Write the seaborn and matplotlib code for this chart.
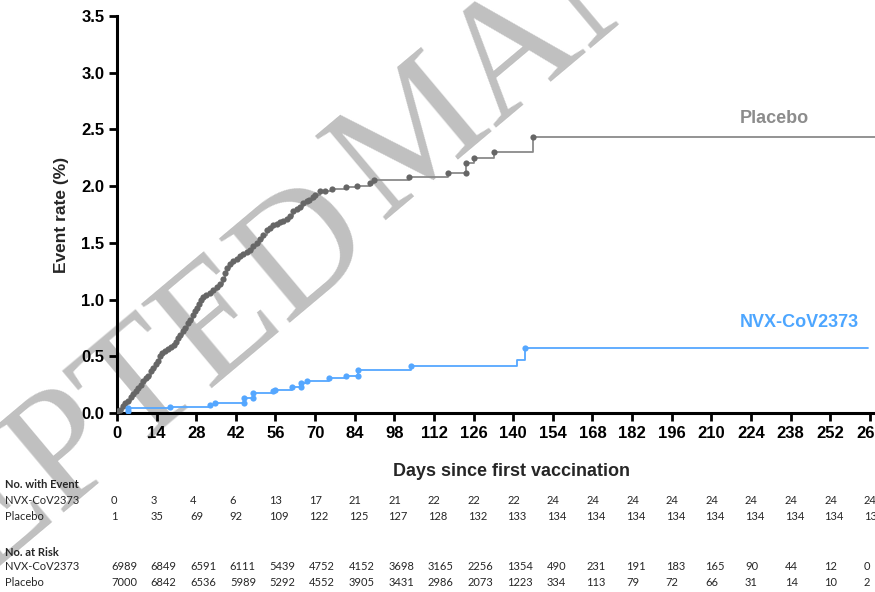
import matplotlib
matplotlib.use("Agg")
import matplotlib.pyplot as plt
import matplotlib.transforms as mtransforms
import pandas as pd
import seaborn as sns

# --- data ------------------------------------------------------------------
placebo_days = [0, 1.0, 2.0, 3.0, 4.0, 5.0, 5.8, 6.8, 7.5, 8.5, 9.3, 10.2, 11.0, 12.0, 12.8,
                13.8, 14.5, 15.2, 15.8, 16.8, 18.0, 19.0, 20.0, 20.8, 21.5, 22.3, 23.2, 24.0,
                25.0, 25.8, 26.8, 27.5, 28.3, 29.0, 29.6, 30.5, 31.5, 32.9, 34.0, 35.2, 36.4,
                37.5, 38.3, 38.8, 39.8, 41.0, 42.3, 43.5, 44.5, 45.8, 47.0, 48.2, 49.3, 50.5,
                51.5, 52.9, 54.0, 55.2, 56.4, 57.5, 58.8, 59.9, 61.0, 62.3, 63.5, 64.5, 65.8,
                67.0, 68.0, 69.3, 70.0, 71.7, 73.5, 76.0, 81.0, 84.8, 89.5, 90.8, 103.3,
                117.0, 123.3, 123.3, 126.2, 133.3, 147.0]
placebo_rate = [0.014, 0.03, 0.06, 0.09, 0.11, 0.14, 0.17, 0.19, 0.22, 0.25, 0.28, 0.31, 0.33,
                0.37, 0.40, 0.43, 0.46, 0.50, 0.53, 0.55, 0.56, 0.58, 0.60, 0.63, 0.66, 0.69,
                0.72, 0.75, 0.79, 0.82, 0.86, 0.90, 0.93, 0.96, 1.00, 1.02, 1.04, 1.055, 1.08,
                1.11, 1.14, 1.18, 1.23, 1.28, 1.31, 1.34, 1.36, 1.38, 1.40, 1.42, 1.44, 1.47,
                1.50, 1.53, 1.57, 1.61, 1.63, 1.66, 1.67, 1.68, 1.69, 1.71, 1.74, 1.78, 1.80,
                1.82, 1.85, 1.87, 1.88, 1.90, 1.92, 1.955, 1.96, 1.975, 1.99, 2.00, 2.03, 2.05,
                2.08, 2.12, 2.12, 2.20, 2.245, 2.305, 2.43]
placebo_end_day = 279

nvx_days = [3.8, 4.0, 18.9, 32.9, 34.8, 44.9, 44.9, 47.9, 47.9, 55.0, 56.0, 62.0, 65.0, 65.0,
            67.0, 75.0, 81.0, 85.0, 85.0, 104.0, 144.0]
nvx_rate = [0.014, 0.043, 0.057, 0.072, 0.086, 0.086, 0.13, 0.13, 0.175, 0.19, 0.205, 0.225,
            0.225, 0.265, 0.285, 0.305, 0.33, 0.33, 0.38, 0.41, 0.575]
nvx_jump_day, nvx_jump_rate = 141.5, 0.47   # intermediate step drawn without a symbol
nvx_end_day = 265.5

tick_days = [0, 14, 28, 42, 56, 70, 84, 98, 112, 126, 140, 154, 168, 182, 196, 210, 224, 238,
             252, 266]
event_nvx = [0, 3, 4, 6, 13, 17, 21, 21, 22, 22, 22, 24, 24, 24, 24, 24, 24, 24, 24, 24]
event_placebo = [1, 35, 69, 92, 109, 122, 125, 127, 128, 132, 133, 134, 134, 134, 134, 134, 134,
                 134, 134, 134]
risk_nvx = [6989, 6849, 6591, 6111, 5439, 4752, 4152, 3698, 3165, 2256, 1354, 490, 231, 191, 183,
            165, 90, 44, 12, 0]
risk_placebo = [7000, 6842, 6536, 5989, 5292, 4552, 3905, 3431, 2986, 2073, 1223, 334, 113, 79,
                72, 66, 31, 14, 10, 2]

grey_line = "#8a8a8a"
grey_dot = "#666666"
blue = "#55a7ff"

sns.set_style("ticks")
plt.rcParams["font.family"] = ["Liberation Sans", "DejaVu Sans"]

fig = plt.figure(figsize=(8.75, 5.92), dpi=100)
ax = fig.add_axes([117 / 875, 179 / 592, (906.6 - 117) / 875, 397 / 592])
ax.patch.set_alpha(0)

# step curves (line) and event symbols (dots)
plac_line = pd.DataFrame({"day": [0] + placebo_days + [placebo_end_day],
                          "rate": [0] + placebo_rate + [placebo_rate[-1]]})
nvx_line = pd.DataFrame({"day": [0] + nvx_days[:-1] + [nvx_jump_day, nvx_days[-1], nvx_end_day],
                         "rate": [0] + nvx_rate[:-1] + [nvx_jump_rate, nvx_rate[-1], nvx_rate[-1]]})

sns.lineplot(data=plac_line, x="day", y="rate", estimator=None, sort=False,
             drawstyle="steps-post", color=grey_line, lw=1.3, ax=ax)
sns.lineplot(data=nvx_line, x="day", y="rate", estimator=None, sort=False,
             drawstyle="steps-post", color=blue, lw=1.3, ax=ax)
sns.scatterplot(x=placebo_days, y=placebo_rate, color=grey_dot, s=20, linewidth=0, ax=ax, zorder=4)
sns.scatterplot(x=nvx_days, y=nvx_rate, color=blue, s=20, linewidth=0, ax=ax, zorder=4)

ax.set_xlim(0, 279)
ax.set_ylim(0, 3.5)
ax.set_xticks(tick_days)
ax.set_xticklabels([str(d) for d in tick_days], fontweight="bold", fontsize=12,
                   family=["Liberation Sans Narrow", "Liberation Sans"])
ax.set_yticks([0, 0.5, 1.0, 1.5, 2.0, 2.5, 3.0, 3.5])
ax.set_yticklabels([f"{v:.1f}" for v in ax.get_yticks()], fontweight="bold", fontsize=12)
ax.tick_params(axis="both", direction="out", length=6, width=2, pad=3, colors="black")
for side in ["left", "bottom"]:
    ax.spines[side].set_linewidth(2.2)
    ax.spines[side].set_color("black")
sns.despine(ax=ax)

ax.set_xlabel("Days since first vaccination", fontsize=13, fontweight="bold", labelpad=16)
ax.set_ylabel("Event rate (%)", fontsize=12.5, fontweight="bold", labelpad=9)

ax.text(220, 2.60, "Placebo", color="#8c8c8c", fontsize=13, fontweight="bold", va="center")
ax.text(220, 0.80, "NVX-CoV2373", color="#4da6ff", fontsize=13, fontweight="bold", va="center")

# risk table under the axis, columns tied to the day ticks
tbl = mtransforms.blended_transform_factory(ax.transData, fig.transFigure)
tbl = tbl + mtransforms.ScaledTranslation(-6 / 100, 0, fig.dpi_scale_trans)
tfont = dict(fontsize=8, family=["Lato", "DejaVu Sans"])
rows = [("No. with Event", None, 484, True),
        ("NVX-CoV2373", event_nvx, 501, False),
        ("Placebo", event_placebo, 517, False),
        ("No. at Risk", None, 552, True),
        ("NVX-CoV2373", risk_nvx, 567, False),
        ("Placebo", risk_placebo, 583, False)]
for label, vals, ypx, bold in rows:
    yf = 1 - ypx / 592
    fig.text(5 / 875, yf, label, va="center", ha="left",
             fontweight="bold" if bold else "normal", **tfont)
    if vals is not None:
        for d, v in zip(tick_days, vals):
            ax.text(d, yf, str(v), transform=tbl, va="center", ha="left", clip_on=False, **tfont)

# watermark behind everything (two words, tighter gap than a plain space)
wm = dict(rotation=40, rotation_mode="anchor", ha="center", va="center", fontsize=120,
          family=["Liberation Serif", "DejaVu Serif"], color="#c0c0c0", zorder=-1)
fig.text(23 / 875, 1 - 493 / 592, "ACCEPTED", **wm)
fig.text(766 / 875, 1 + 156 / 592, "MANUSCRIPT", **wm)

fig.savefig("out.png", dpi=100)
